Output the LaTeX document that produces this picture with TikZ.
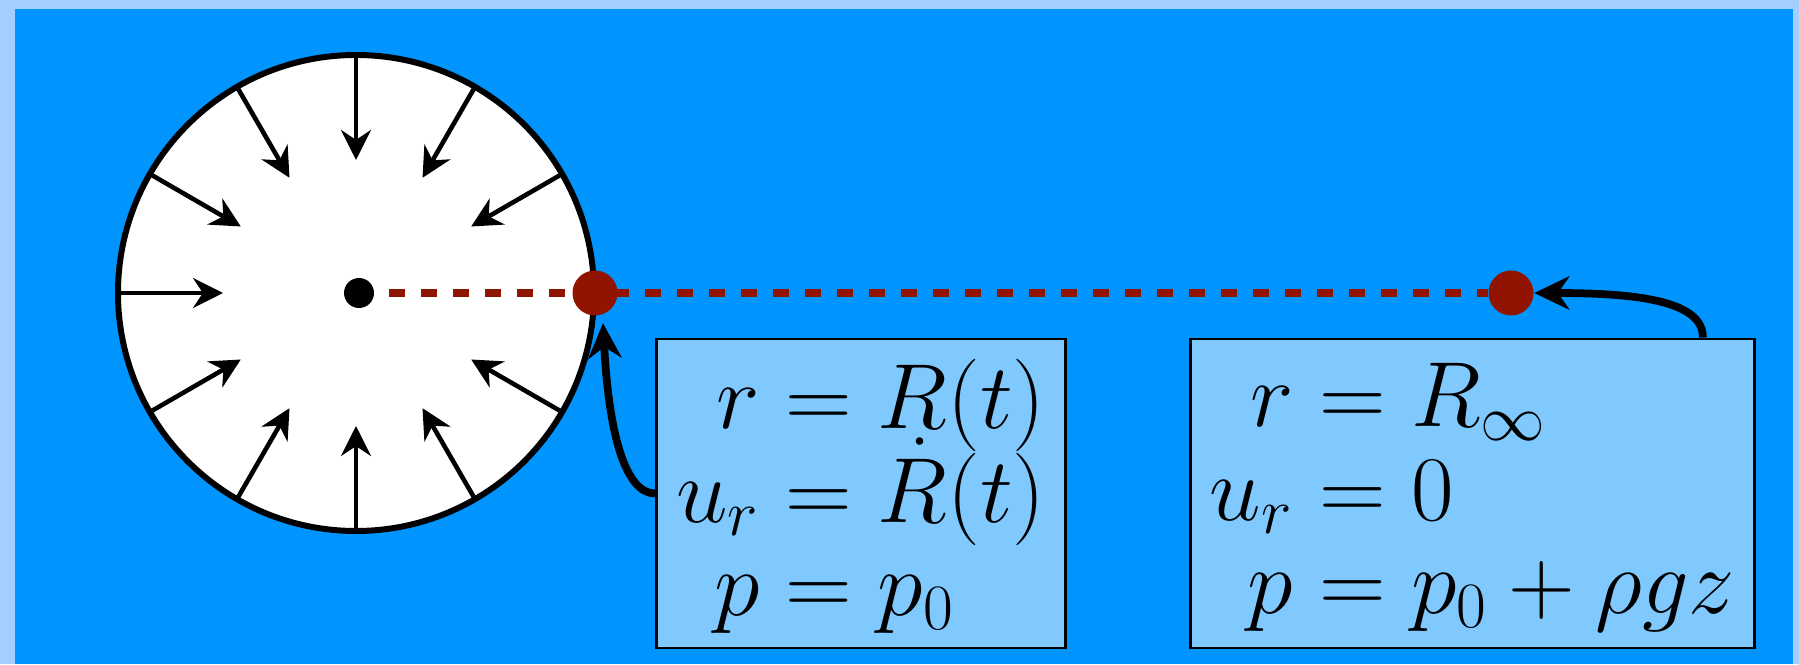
\documentclass[tikz,border=0pt]{standalone}
\usepackage{fix-cm}
\usepackage{amsmath}
\usetikzlibrary{arrows.meta}

\definecolor{seablue}{HTML}{0094FF}
\definecolor{framebl}{HTML}{A3CFFF}
\definecolor{boxblue}{HTML}{80C9FF}
\definecolor{darkred}{HTML}{911400}
\newcommand{\eqfont}{\fontsize{26.3}{26.5}\selectfont\lineskiplimit=-50pt\jot=0pt}
\newcommand{\bceqs}[1]{\raisebox{0pt}[\dimexpr\height+4.5pt\relax]{$\begin{aligned}#1\end{aligned}$}}

\begin{document}
\begin{tikzpicture}[
  >=Stealth,
  wall/.style={draw, fill=white, line width=1.7pt},
  inarr/.style={-{Stealth[length=8.5pt,width=8.5pt]}, line width=1.3pt},
  dot/.style={circle, fill=black, minimum size=0.3cm, inner sep=0pt},
  reddot/.style={circle, fill=darkred, minimum size=0.45cm, inner sep=0pt},
  radial/.style={darkred, line width=2.3pt, dash pattern=on 0.165cm off 0.155cm,
              dash phase=0.18cm},
  cond/.style={draw, fill=boxblue, line width=0.8pt, minimum height=3.09cm,
              inner sep=0pt, font=\eqfont},
  bcarr/.style={-{Stealth[length=10pt,width=9.5pt]}, line width=2.2pt},
]

\useasboundingbox (0,0) rectangle (17.99,6.64);
\fill[framebl] (0,0) rectangle (17.99,6.64);
\fill[seablue] (0.15,0) rectangle (17.93,6.55);

\coordinate (bubble) at (3.56,3.71);
\draw[wall] (bubble) circle (2.38cm);
\foreach \a in {30,60,...,330}
  \draw[inarr, shift={(bubble)}] (\a:2.38) -- (\a:1.33);

\node[dot] (ctr) at (3.59,3.71) {};
\node[reddot] (surf) at (5.95,3.71) {};
\node[reddot] (far) at (15.11,3.71) {};

\draw[radial] (ctr) -- (far);

\node[cond, minimum width=4.09cm] (bcA) at (8.61,1.705)
  {\bceqs{r &= R(t)\\ u_r &= \dot{R}(t)\\ p &= p_0}};
\node[cond, minimum width=5.64cm] (bcB) at (14.725,1.705)
  {\bceqs{r &= R_\infty\\ u_r &= 0\\ p &= p_0 + \rho g z}};

\draw[bcarr] (bcA.west) to[out=180, in=-87, out distance=0.3cm, in distance=1.1cm]
  ([shift={(0.08,-0.07)}]surf.south);
\draw[bcarr] ([xshift=-0.53cm]bcB.north east) to[out=90, in=0, out distance=0.35cm,
  in distance=1.1cm] (far);

\end{tikzpicture}
\end{document}
